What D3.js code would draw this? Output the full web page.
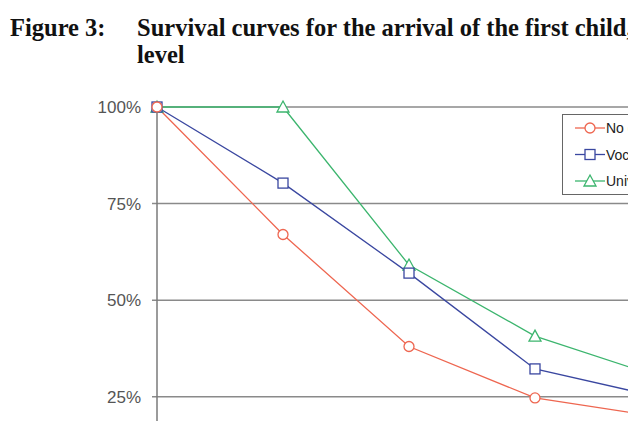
<!DOCTYPE html>
<html>
<head>
<meta charset="utf-8">
<script src="https://cdn.jsdelivr.net/npm/d3@7"></script>
<style>
  body { margin: 0; background: #fff; }
  svg { display: block; }
  .title { font-family: "Liberation Serif", "Times New Roman", serif; font-weight: bold; font-size: 24.5px; fill: #111; }
  .tick text { font-family: "Liberation Sans", Arial, sans-serif; font-size: 17px; fill: #555; }
  .legend text { font-family: "Liberation Sans", Arial, sans-serif; font-size: 14px; fill: #222; }
</style>
</head>
<body>
<svg width="628" height="421"></svg>
<script>
// data (share still without a first child)
const steps = [0, 1, 2, 3, 4];
const noQual = [1.00, 0.67, 0.38, 0.247, 0.197];
const vocational = [1.00, 0.803, 0.57, 0.322, 0.248];
const university = [1.00, 1.00, 0.591, 0.407, 0.30];
const seriesNames = ["No qualification", "Vocational", "University"];
const yTicks = [0, 0.25, 0.5, 0.75, 1];

const series = [
  { name: seriesNames[0], values: noQual, color: "#ee6650", shape: "circle" },
  { name: seriesNames[1], values: vocational, color: "#3a47a0", shape: "square" },
  { name: seriesNames[2], values: university, color: "#3cb56e", shape: "triangle" }
];

const svg = d3.select("svg");

// title
const title = svg.append("g");
title.append("text").attr("class", "title").attr("x", 10).attr("y", 36).text("Figure 3:");
title.append("text").attr("class", "title").attr("x", 137).attr("y", 36)
  .text("Survival curves for the arrival of the first child, by educational");
title.append("text").attr("class", "title").attr("x", 137).attr("y", 63).text("level");

const x = d3.scaleLinear().domain([0, 4]).range([157, 661]);
const y = d3.scaleLinear().domain([0, 1]).range([493.3, 107]);

// horizontal gridlines
svg.append("g")
  .selectAll("line")
  .data(yTicks)
  .join("line")
  .attr("x1", 152)
  .attr("x2", 700)
  .attr("y1", d => y(d))
  .attr("y2", d => y(d))
  .attr("stroke", "#8a8a8a")
  .attr("stroke-width", 1.5);

// left axis
const yAxis = d3.axisLeft(y)
  .tickValues(yTicks)
  .tickFormat(d3.format(".0%"))
  .tickSize(0)
  .tickPadding(16);

svg.append("g")
  .attr("transform", "translate(157,0)")
  .call(yAxis)
  .call(g => g.select(".domain").remove());

svg.append("line")
  .attr("x1", 157).attr("x2", 157)
  .attr("y1", y(1)).attr("y2", y(0))
  .attr("stroke", "#7a7a7a")
  .attr("stroke-width", 1.5);

const line = d3.line()
  .x((d, i) => x(steps[i]))
  .y(d => y(d));

function drawMarker(g, shape, color, cx, cy) {
  if (shape === "circle") {
    g.append("circle").attr("cx", cx).attr("cy", cy).attr("r", 5)
      .attr("fill", "#fff").attr("stroke", color).attr("stroke-width", 1.3);
  } else if (shape === "square") {
    g.append("rect").attr("x", cx - 5).attr("y", cy - 5).attr("width", 10).attr("height", 10)
      .attr("fill", "#fff").attr("stroke", color).attr("stroke-width", 1.3);
  } else {
    g.append("path")
      .attr("d", `M${cx},${cy - 6}L${cx + 6},${cy + 5}L${cx - 6},${cy + 5}Z`)
      .attr("fill", "#fff").attr("stroke", color).attr("stroke-width", 1.3);
  }
}

// lines, then markers (reverse order so red sits on top at the start)
series.slice().reverse().forEach(s => {
  svg.append("path")
    .datum(s.values)
    .attr("d", line)
    .attr("fill", "none")
    .attr("stroke", s.color)
    .attr("stroke-width", 1.3);
});
series.slice().reverse().forEach(s => {
  const g = svg.append("g");
  s.values.forEach((v, i) => drawMarker(g, s.shape, s.color, x(steps[i]), y(v)));
});

// legend
const legend = svg.append("g").attr("class", "legend");
legend.append("rect")
  .attr("x", 562.5).attr("y", 114.5)
  .attr("width", 140).attr("height", 80)
  .attr("fill", "#fff")
  .attr("stroke", "#666")
  .attr("stroke-width", 1);

series.forEach((s, i) => {
  const ly = 128 + i * 26.5;
  legend.append("line")
    .attr("x1", 575).attr("x2", 605)
    .attr("y1", ly).attr("y2", ly)
    .attr("stroke", s.color).attr("stroke-width", 1.3);
  drawMarker(legend, s.shape, s.color, 590, ly);
  legend.append("text")
    .attr("x", 606).attr("y", ly + 5)
    .text(s.name);
});
</script>
</body>
</html>
